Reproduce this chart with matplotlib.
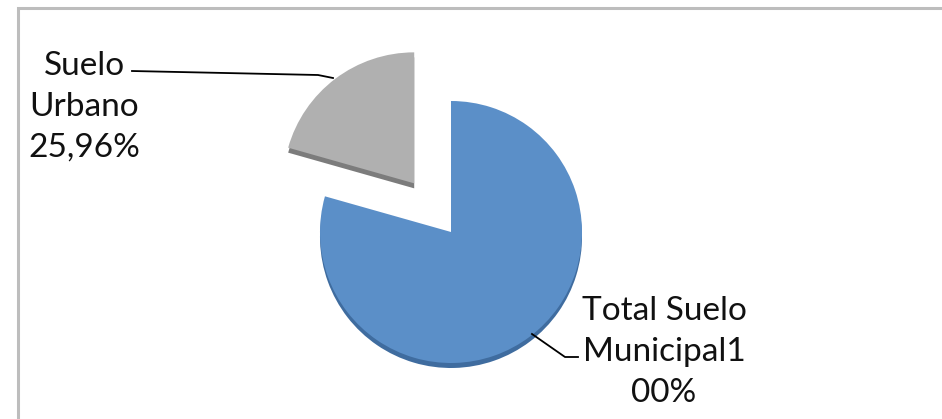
import matplotlib.pyplot as plt
from matplotlib.patches import Rectangle

# Data
labels = ["Total Suelo\nMunicipal1\n00%", "Suelo\nUrbano\n25,96%"]
values = [100, 25.96]
colors = ["#5b8fc8", "#b0b0b0"]
rim_colors = ["#3f6c9f", "#7c7c7c"]

W, H = 942, 419

def py(y):
    # image pixel row -> axes y (y up)
    return H - y

fig = plt.figure(figsize=(W / 100, H / 100), dpi=100)
ax = fig.add_axes([0, 0, 1, 1])

cx, cy, r = 451, 232, 131
explode = [0, 61]  # pie explode is in data units (pixels here)

# thickness of the 3D pie: a darker copy a few pixels lower
ax.pie(values, colors=rim_colors, explode=explode, startangle=90,
       counterclock=False, radius=r, center=(cx, py(cy + 5)), frame=True,
       wedgeprops=dict(linewidth=0))
ax.pie(values, colors=colors, explode=explode, startangle=90,
       counterclock=False, radius=r, center=(cx, py(cy)), frame=True,
       wedgeprops=dict(linewidth=0))
ax.set_xlim(0, W)
ax.set_ylim(0, H)
ax.set_aspect('equal')
ax.axis('off')

font = ['Lato', 'DejaVu Sans']
ax.text(84, py(157), labels[1], ha='center', va='baseline', fontsize=24,
        family=font, color='#111111', linespacing=1.45)
ax.text(664, py(402), labels[0], ha='center', va='baseline', fontsize=24,
        family=font, color='#111111', linespacing=1.45)

# leader lines
ax.plot([132, 318, 333], [py(71), py(75), py(78)], color='black', lw=1.3)
ax.plot([532, 565, 578], [py(334), py(357), py(357)], color='black', lw=1.3)

# chart frame
ax.add_patch(Rectangle((18, -10), W + 20, py(8) + 10, fill=False,
                       edgecolor='#bdbdbd', lw=2.2))

fig.savefig('out.png', dpi=100, facecolor='white')
